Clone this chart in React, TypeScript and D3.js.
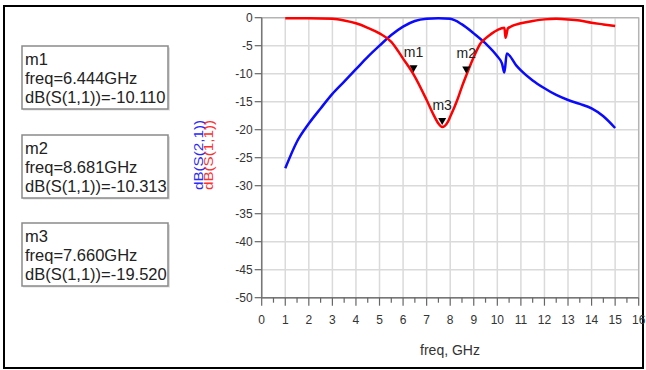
import * as d3 from 'd3';

// S(2,1) and S(1,1) (freq in GHz, magnitude in dB)
const freqS21 = [1, 1.5, 2, 2.5, 3, 3.5, 4, 4.5, 5, 5.5, 6, 6.5, 7, 7.5, 8, 8.5, 9, 9.5, 10, 10.2, 10.3, 10.4, 10.8, 11, 11.5, 12, 12.5, 13, 13.5, 14, 14.5, 15];
const dbS21 = [-26.9, -22.1, -18.9, -16.2, -13.6, -11.4, -9.2, -7.0, -5.0, -3.1, -1.6, -0.6, -0.2, -0.1, -0.2, -1.2, -2.8, -4.6, -6.9, -8.2, -9.8, -6.4, -8.5, -9.4, -11.2, -12.6, -13.8, -14.7, -15.4, -16.2, -17.6, -19.7];

const freqS11 = [1, 2, 3, 3.5, 4, 4.5, 5, 5.5, 6, 6.444, 7, 7.3, 7.5, 7.66, 7.9, 8, 8.3, 8.5, 8.681, 9, 9.3, 9.5, 10, 10.3, 10.35, 10.45, 11, 11.5, 12, 12.5, 13, 13.5, 14, 14.5, 15];
const dbS11 = [-0.1, -0.1, -0.2, -0.5, -1.0, -1.8, -2.8, -4.3, -7.3, -10.11, -14.7, -17.4, -18.9, -19.52, -18.6, -17.7, -14.7, -12.3, -10.31, -7.0, -4.5, -3.7, -2.2, -1.8, -3.6, -1.9, -1.0, -0.6, -0.3, -0.2, -0.3, -0.5, -0.9, -1.2, -1.5];

const markerNames = ['m1', 'm2', 'm3'];
const markerFreq = [6.444, 8.681, 7.66];
const markerDb = [-10.11, -10.313, -19.52];

const xTicks = d3.range(0, 17, 1);
const xMinor = d3.range(0.5, 16, 1);
const yTicks = d3.range(-50, 1, 5);

const FONT = '"Liberation Sans", Arial, sans-serif';

export default function App() {
  const x = d3.scaleLinear().domain([0, 16]).range([261.7, 638.7]);
  const y = d3.scaleLinear().domain([0, -50]).range([17.7, 297.7]);

  const line = d3
    .line<[number, number]>()
    .x((d) => x(d[0]))
    .y((d) => y(d[1]))
    .curve(d3.curveMonotoneX);

  const s21 = line(freqS21.map((f, i) => [f, dbS21[i]]));
  const s11 = line(freqS11.map((f, i) => [f, dbS11[i]]));

  const boxTops = [46, 135, 223];

  return (
    <svg
      width={646}
      height={370}
      style={{ position: 'absolute', left: 0, top: 0, background: '#fff' }}
      fontFamily={FONT}
    >
      <rect x={4} y={6} width={639} height={362} fill="#fff" stroke="#000" strokeWidth={2} />

      {/* grid */}
      {xTicks.slice(1).map((t) => (
        <line key={'gx' + t} x1={x(t)} x2={x(t)} y1={y(0)} y2={y(-50)} stroke="#dadada" strokeWidth={1.5} />
      ))}
      {yTicks.map((t) => (
        <line key={'gy' + t} x1={x(0)} x2={x(16)} y1={y(t)} y2={y(t)} stroke="#dadada" strokeWidth={1.5} />
      ))}
      <rect x={x(0)} y={y(0)} width={x(16) - x(0)} height={y(-50) - y(0)} fill="none" stroke="#b0b0b0" strokeWidth={1.2} />

      {/* axes */}
      <line x1={x(0)} x2={x(0)} y1={y(0)} y2={y(-50)} stroke="#777" strokeWidth={1.5} />
      <line x1={x(0)} x2={x(16)} y1={y(-50)} y2={y(-50)} stroke="#777" strokeWidth={1.5} />
      {yTicks.map((t) => (
        <g key={'yt' + t}>
          <line x1={x(0) - 7} x2={x(0)} y1={y(t)} y2={y(t)} stroke="#666" strokeWidth={1.2} />
          <text x={x(0) - 9} y={y(t)} dy="0.35em" textAnchor="end" fontSize={12} fill="#333">
            {t}
          </text>
        </g>
      ))}
      {xTicks.map((t) => (
        <g key={'xt' + t}>
          <line x1={x(t)} x2={x(t)} y1={y(-50)} y2={y(-50) + 8} stroke="#666" strokeWidth={1.2} />
          <text x={x(t)} y={y(-50) + 26} textAnchor="middle" fontSize={12} fill="#333">
            {t}
          </text>
        </g>
      ))}
      {xMinor.map((t) => (
        <line key={'xm' + t} x1={x(t)} x2={x(t)} y1={y(-50)} y2={y(-50) + 5} stroke="#666" strokeWidth={1.2} />
      ))}
      <text x={450} y={355} textAnchor="middle" fontSize={14} fill="#333">
        freq, GHz
      </text>

      {/* y labels */}
      <text transform="translate(203,155) rotate(-90)" textAnchor="middle" fontSize={12} fill="#2a2aff" textLength={70} lengthAdjust="spacingAndGlyphs">
        dB(S(2,1))
      </text>
      <text transform="translate(213,155) rotate(-90)" textAnchor="middle" fontSize={12} fill="#ff3030" textLength={70} lengthAdjust="spacingAndGlyphs">
        dB(S(1,1))
      </text>

      {/* curves */}
      <path d={s21 ?? ''} fill="none" stroke="#0a0aff" strokeWidth={2.5} />
      <path d={s11 ?? ''} fill="none" stroke="#ff0000" strokeWidth={2.5} />

      {/* markers */}
      {markerNames.map((m, i) => {
        const cx = x(markerFreq[i]);
        const cy = y(markerDb[i]) - 2;
        return (
          <g key={m}>
            <path d={`M${cx - 4},${cy - 7}L${cx + 4},${cy - 7}L${cx},${cy}Z`} fill="#000" />
            <text x={cx} y={cy - 15} textAnchor="middle" fontSize={14} fill="#222">
              {m}
            </text>
          </g>
        );
      })}

      {/* marker readouts */}
      {markerNames.map((m, i) => (
        <g key={'box' + m}>
          <rect x={23} y={boxTops[i] + 1.5} width={147} height={63} fill="#bbb" opacity={0.5} />
          <rect x={22} y={boxTops[i]} width={146} height={63} fill="#fff" stroke="#8a8a8a" strokeWidth={1.5} />
          <text x={25} y={boxTops[i] + 19} fontSize={16.5} fill="#222">
            {m}
          </text>
          <text x={25} y={boxTops[i] + 38} fontSize={16.5} fill="#222">
            {`freq=${markerFreq[i].toFixed(3)}GHz`}
          </text>
          <text x={25} y={boxTops[i] + 57} fontSize={16.5} fill="#222">
            {`dB(S(1,1))=${markerDb[i].toFixed(3)}`}
          </text>
        </g>
      ))}
    </svg>
  );
}
